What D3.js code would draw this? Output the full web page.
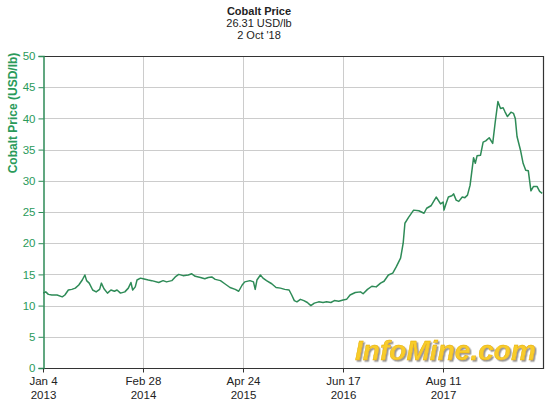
<!DOCTYPE html>
<html lang="en">
<head>
<meta charset="UTF-8">
<title>Cobalt Price</title>
<script src="https://d3js.org/d3.v7.min.js"></script>
<style>
body { margin: 0; background: #fff; }
svg text { font-family: "Liberation Sans", Arial, sans-serif; }
.grid line { stroke: #cccccc; stroke-width: 1; }
</style>
</head>
<body>
<svg width="550" height="405"></svg>
<script>
// price series, dates as decimal years
const years = [
  2013.01, 2013.04, 2013.07, 2013.11, 2013.17, 2013.23, 2013.26, 2013.30, 2013.34, 2013.38,
  2013.42, 2013.46, 2013.49, 2013.51, 2013.54, 2013.58, 2013.62, 2013.66, 2013.68, 2013.71,
  2013.75, 2013.79, 2013.83, 2013.86, 2013.90, 2013.95, 2013.99, 2014.02, 2014.04, 2014.07,
  2014.09, 2014.13, 2014.16, 2014.22, 2014.26, 2014.34, 2014.39, 2014.43, 2014.49, 2014.53,
  2014.57, 2014.62, 2014.68, 2014.72, 2014.76, 2014.82, 2014.87, 2014.91, 2014.95, 2014.99,
  2015.05, 2015.10, 2015.16, 2015.22, 2015.26, 2015.30, 2015.33, 2015.39, 2015.43, 2015.45,
  2015.47, 2015.51, 2015.54, 2015.58, 2015.64, 2015.69, 2015.74, 2015.79, 2015.84, 2015.87,
  2015.90, 2015.93, 2015.97, 2016.01, 2016.05, 2016.09, 2016.13, 2016.18, 2016.23, 2016.27,
  2016.32, 2016.36, 2016.41, 2016.46, 2016.50, 2016.54, 2016.60, 2016.66, 2016.69, 2016.74,
  2016.79, 2016.84, 2016.89, 2016.93, 2016.98, 2017.03, 2017.07, 2017.12, 2017.15, 2017.17,
  2017.21, 2017.27, 2017.33, 2017.39, 2017.42, 2017.47, 2017.53, 2017.58, 2017.61, 2017.62,
  2017.64, 2017.67, 2017.71, 2017.73, 2017.76, 2017.79, 2017.83, 2017.86, 2017.89, 2017.92,
  2017.96, 2017.98, 2018.00, 2018.04, 2018.07, 2018.10, 2018.14, 2018.18, 2018.21, 2018.24,
  2018.27, 2018.30, 2018.32, 2018.35, 2018.39, 2018.42, 2018.44, 2018.46, 2018.50, 2018.53,
  2018.56, 2018.59, 2018.62, 2018.65, 2018.69, 2018.72, 2018.75
];
const prices = [
  12.0, 12.2, 11.8, 11.7, 11.7, 11.4, 11.7, 12.5, 12.6, 12.8,
  13.3, 14.1, 14.9, 14.0, 13.6, 12.5, 12.2, 12.6, 13.6, 12.7,
  12.0, 12.5, 12.3, 12.5, 12.0, 12.2, 12.8, 13.7, 12.5, 13.0,
  14.1, 14.4, 14.3, 14.1, 14.0, 13.7, 14.0, 13.8, 14.0, 14.6,
  15.0, 14.8, 14.9, 15.1, 14.7, 14.5, 14.3, 14.5, 14.6, 14.2,
  14.0, 13.5, 12.9, 12.6, 12.3, 13.3, 13.8, 14.0, 13.8, 12.6,
  14.1, 14.9, 14.4, 14.0, 13.5, 12.9, 12.8, 12.6, 12.5, 11.7,
  10.8, 10.6, 11.0, 10.8, 10.5, 10.0, 10.4, 10.6, 10.5, 10.6,
  10.5, 10.8, 10.7, 10.9, 11.0, 11.7, 12.1, 12.2, 11.9, 12.6,
  13.1, 13.0, 13.6, 13.9, 14.9, 15.2, 16.2, 17.6, 20.0, 23.2,
  24.1, 25.3, 25.2, 24.8, 25.6, 26.0, 27.4, 26.3, 26.6, 25.3,
  26.2, 27.4, 27.6, 27.9, 26.9, 26.7, 27.4, 27.3, 27.7, 29.3,
  33.7, 32.8, 34.0, 34.1, 36.2, 36.4, 36.9, 36.0, 39.5, 42.7,
  41.6, 41.7, 41.1, 40.3, 41.0, 40.8, 40.0, 37.1, 34.9, 32.8,
  31.7, 31.6, 28.4, 29.1, 29.1, 28.3, 28.0
];
const tickDates = ["2013-01-04", "2014-02-28", "2015-04-24", "2016-06-17", "2017-08-11"];
const yTicks = [0, 5, 10, 15, 20, 25, 30, 35, 40, 45, 50];
const titleLines = ["Cobalt Price", "26.31 USD/lb", "2 Oct '18"];

const green = "#2e8b57";
const labelGreen = "#2a9a5a";

function fromDecimal(v) {
  const yr = Math.floor(v);
  const start = Date.UTC(yr, 0, 1), end = Date.UTC(yr + 1, 0, 1);
  return new Date(start + (v - yr) * (end - start));
}
const parse = d3.utcParse("%Y-%m-%d");
const data = years.map((v, i) => ({date: fromDecimal(v), value: prices[i]}));

const plotLeft = 43, plotRight = 543, plotTop = 56, plotBottom = 368;
const svg = d3.select("svg");

const x = d3.scaleUtc()
  .domain([parse("2013-01-04"), parse("2018-10-05")])
  .range([plotLeft, plotRight]);
const y = d3.scaleLinear().domain([0, 50]).range([plotBottom, plotTop]);

// grid
const grid = svg.append("g").attr("class", "grid");
grid.selectAll(".h").data(yTicks.slice(1, -1)).enter().append("line")
  .attr("x1", plotLeft).attr("x2", plotRight)
  .attr("y1", d => Math.round(y(d)) + 0.5).attr("y2", d => Math.round(y(d)) + 0.5);
grid.selectAll(".v").data(tickDates.slice(1)).enter().append("line")
  .attr("y1", plotTop).attr("y2", plotBottom)
  .attr("x1", d => Math.round(x(parse(d))) + 0.5).attr("x2", d => Math.round(x(parse(d))) + 0.5);

// watermark, with a soft grey shadow
const defs = svg.append("defs");
defs.append("filter").attr("id", "shadow")
  .append("feDropShadow")
  .attr("dx", 1.5).attr("dy", 1.5).attr("stdDeviation", 0.6)
  .attr("flood-color", "#8a8a8a").attr("flood-opacity", 0.9);
svg.append("text")
  .attr("x", 355).attr("y", 360)
  .attr("font-size", 27).attr("font-weight", "bold").attr("font-style", "italic")
  .attr("textLength", 181).attr("lengthAdjust", "spacingAndGlyphs")
  .attr("fill", "#f8cc2a").attr("stroke", "#e3ab00").attr("stroke-width", 0.4)
  .attr("filter", "url(#shadow)")
  .text("InfoMine.com");

// frame
svg.append("path")
  .attr("d", `M${plotLeft},${plotTop + 0.5}H${plotRight + 0.5}V${plotBottom + 0.5}H${plotLeft}`)
  .attr("fill", "none").attr("stroke", "#333").attr("stroke-width", 1.2);

// line
svg.append("path")
  .datum(data)
  .attr("fill", "none")
  .attr("stroke", green)
  .attr("stroke-width", 1.5)
  .attr("stroke-linejoin", "round")
  .attr("d", d3.line().x(d => x(d.date)).y(d => y(d.value)));

// y axis
const yAxis = svg.append("g")
  .attr("transform", `translate(${plotLeft + 0.5},0)`)
  .call(d3.axisLeft(y).tickValues(yTicks).tickSize(5).tickPadding(3));
yAxis.select(".domain").attr("stroke", green).attr("stroke-width", 1.5);
yAxis.selectAll(".tick line").attr("stroke", green);
yAxis.selectAll(".tick text").attr("fill", labelGreen).attr("font-size", 11.5)
  .attr("font-family", "Liberation Sans, Arial, sans-serif");

// x axis
const xAxis = svg.append("g")
  .attr("transform", `translate(0,${plotBottom + 0.5})`)
  .call(d3.axisBottom(x).tickValues(tickDates.map(parse)).tickSize(4).tickFormat(""));
xAxis.select(".domain").remove();
xAxis.selectAll(".tick line").attr("stroke", "#333");
const fmtTop = d3.utcFormat("%b %-d"), fmtBot = d3.utcFormat("%Y");
xAxis.selectAll(".tick").each(function(d) {
  const t = d3.select(this).append("text")
    .attr("fill", "#222").attr("font-size", 11.5).attr("text-anchor", "middle")
    .attr("font-family", "Liberation Sans, Arial, sans-serif");
  t.append("tspan").attr("x", 0).attr("y", 16).text(fmtTop(d));
  t.append("tspan").attr("x", 0).attr("y", 30).text(fmtBot(d));
});

// y label
svg.append("text")
  .attr("transform", "translate(17,113) rotate(-90)")
  .attr("text-anchor", "middle")
  .attr("font-size", 12).attr("font-weight", "bold")
  .attr("fill", labelGreen)
  .text("Cobalt Price (USD/lb)");

// title
svg.append("g").selectAll("text").data(titleLines).enter().append("text")
  .attr("x", 259).attr("y", (d, i) => 15 + i * 12)
  .attr("text-anchor", "middle")
  .attr("font-size", 11)
  .attr("font-weight", (d, i) => i === 0 ? "bold" : "normal")
  .attr("fill", "#222")
  .text(d => d);
</script>
</body>
</html>
